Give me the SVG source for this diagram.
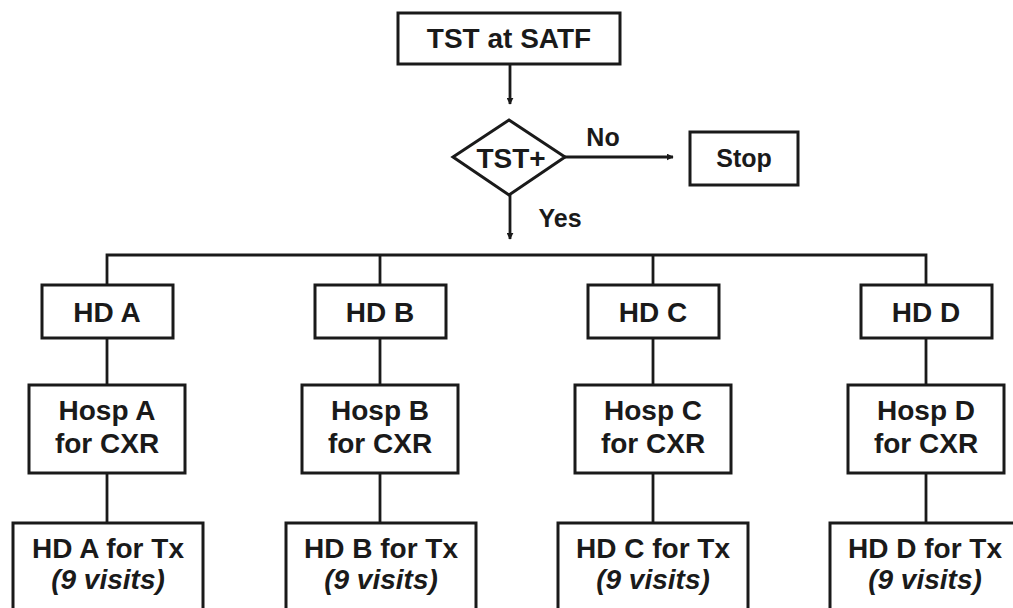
<svg xmlns="http://www.w3.org/2000/svg" width="1013" height="608" viewBox="0 0 1013 608">
<style>
.box{fill:#fff;stroke:#1a1a1a;stroke-width:3}
.ln{fill:none;stroke:#1a1a1a;stroke-width:2.8}
text{font-family:"Liberation Sans",Arial,sans-serif;font-weight:bold;fill:#1a1a1a;text-anchor:middle}
.t{font-size:28px}
.s{font-size:25px}
.it{font-style:italic}
</style>
<defs>
<marker id="ah" viewBox="0 0 10 10" refX="9" refY="5" markerWidth="2.5" markerHeight="2.5" orient="auto" markerUnits="strokeWidth">
<path d="M0,0 L10,5 L0,10 z" fill="#1a1a1a"/>
</marker>
</defs>
<rect width="1013" height="608" fill="#fff"/>
<g id="connectors">
<line class="ln" x1="510" y1="64" x2="510" y2="104" marker-end="url(#ah)"/>
<line class="ln" x1="565" y1="157" x2="673" y2="157" marker-end="url(#ah)"/>
<line class="ln" x1="510" y1="195" x2="510" y2="239" marker-end="url(#ah)"/>
<polyline class="ln" points="107,285 107,255 926,255 926,285"/>
<line class="ln" x1="380" y1="255" x2="380" y2="285"/>
<line class="ln" x1="653" y1="255" x2="653" y2="285"/>
<line class="ln" x1="107" y1="338" x2="107" y2="385"/>
<line class="ln" x1="380" y1="338" x2="380" y2="385"/>
<line class="ln" x1="653" y1="338" x2="653" y2="385"/>
<line class="ln" x1="926" y1="338" x2="926" y2="385"/>
<line class="ln" x1="107" y1="473" x2="107" y2="523"/>
<line class="ln" x1="380" y1="473" x2="380" y2="523"/>
<line class="ln" x1="653" y1="473" x2="653" y2="523"/>
<line class="ln" x1="926" y1="473" x2="926" y2="523"/>
<text class="s" x="603" y="146">No</text>
<text class="s" x="560" y="227">Yes</text>
</g>
<g id="n-start"><rect class="box" x="398" y="13" width="222" height="51"/><text class="t" x="509" y="48">TST at SATF</text></g>
<g id="n-decision"><polygon class="box" points="509,120 565,157 509,195 453,157"/><text class="t" x="511" y="168">TST+</text></g>
<g id="n-stop"><rect class="box" x="690" y="132" width="108" height="53"/><text class="s" x="744" y="167">Stop</text></g>
<g id="n-hda"><rect class="box" x="42" y="285" width="131" height="53"/><text class="t" x="107" y="322">HD A</text></g>
<g id="n-hdb"><rect class="box" x="315" y="285" width="131" height="53"/><text class="t" x="380" y="322">HD B</text></g>
<g id="n-hdc"><rect class="box" x="588" y="285" width="131" height="53"/><text class="t" x="653" y="322">HD C</text></g>
<g id="n-hdd"><rect class="box" x="861" y="285" width="131" height="53"/><text class="t" x="926" y="322">HD D</text></g>
<g id="n-hospa"><rect class="box" x="29" y="385" width="156" height="88"/><text class="t" x="107" y="420">Hosp A</text><text class="t" x="107" y="453">for CXR</text></g>
<g id="n-hospb"><rect class="box" x="302" y="385" width="156" height="88"/><text class="t" x="380" y="420">Hosp B</text><text class="t" x="380" y="453">for CXR</text></g>
<g id="n-hospc"><rect class="box" x="575" y="385" width="156" height="88"/><text class="t" x="653" y="420">Hosp C</text><text class="t" x="653" y="453">for CXR</text></g>
<g id="n-hospd"><rect class="box" x="848" y="385" width="156" height="88"/><text class="t" x="926" y="420">Hosp D</text><text class="t" x="926" y="453">for CXR</text></g>
<g id="n-txa"><rect class="box" x="13" y="523" width="190" height="100"/><text class="t" x="108" y="558">HD A for Tx</text><text class="t it" x="108" y="589">(9 visits)</text></g>
<g id="n-txb"><rect class="box" x="286" y="523" width="190" height="100"/><text class="t" x="381" y="558">HD B for Tx</text><text class="t it" x="381" y="589">(9 visits)</text></g>
<g id="n-txc"><rect class="box" x="558" y="523" width="190" height="100"/><text class="t" x="653" y="558">HD C for Tx</text><text class="t it" x="653" y="589">(9 visits)</text></g>
<g id="n-txd"><rect class="box" x="830" y="523" width="190" height="100"/><text class="t" x="925" y="558">HD D for Tx</text><text class="t it" x="925" y="589">(9 visits)</text></g>
</svg>
